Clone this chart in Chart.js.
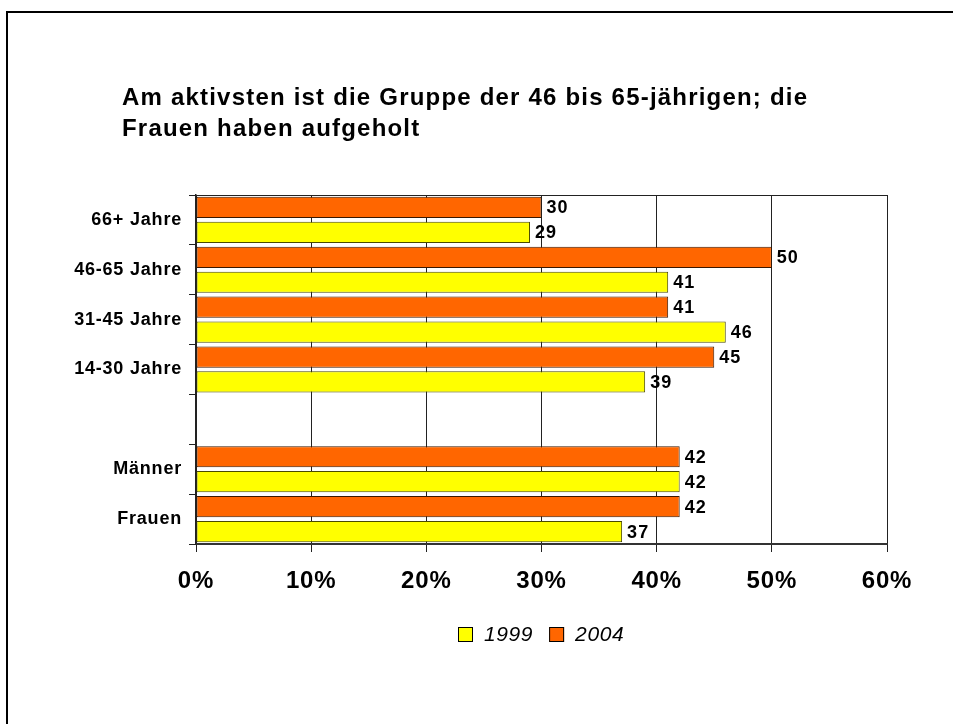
<!DOCTYPE html>
<html lang="de">
<head>
<meta charset="utf-8">
<title>Aktivität nach Gruppen</title>
<script src="https://cdn.jsdelivr.net/npm/chart.js@4/dist/chart.umd.min.js"></script>
<style>
  html, body { margin: 0; padding: 0; background: #fff; }
  canvas { display: block; }
</style>
</head>
<body>
<canvas id="chart" width="953" height="724"></canvas>
<script>
// Daten
const titleLines = ['Am aktivsten ist die Gruppe der 46 bis 65-jährigen; die', 'Frauen haben aufgeholt'];
const categories = ['66+ Jahre', '46-65 Jahre', '31-45 Jahre', '14-30 Jahre', '', 'Männer', 'Frauen'];
const values2004 = [30, 50, 41, 45, null, 42, 42];
const values1999 = [29, 41, 46, 39, null, 42, 37];
const xTicks = [0, 10, 20, 30, 40, 50, 60];
const legendOrder = ['1999', '2004'];

const FONT = '"Liberation Sans", Arial, sans-serif';
Chart.defaults.font.family = FONT;
Chart.defaults.color = '#000';

// Rahmen, Titel, Werte und Legende
const deco = {
  id: 'deco',
  beforeDraw(chart) {
    const ctx = chart.ctx;
    ctx.save();
    ctx.fillStyle = '#fff';
    ctx.fillRect(0, 0, chart.width, chart.height);
    ctx.fillStyle = '#000';
    ctx.fillRect(6, 11, chart.width, 2);
    ctx.fillRect(6, 11, 2, chart.height);
    ctx.restore();
    ctx.letterSpacing = '0.8px';
  },
  afterDatasetsDraw(chart) {
    const ctx = chart.ctx;
    ctx.save();
    ctx.font = 'bold 18px ' + FONT;
    ctx.letterSpacing = '1px';
    ctx.fillStyle = '#000';
    ctx.textAlign = 'left';
    ctx.textBaseline = 'middle';
    chart.data.datasets.forEach((ds, i) => {
      chart.getDatasetMeta(i).data.forEach((bar, j) => {
        const v = ds.data[j];
        if (v == null) return;
        ctx.fillText(String(v), bar.x + 5, bar.y + 1);
      });
    });
    ctx.restore();
  },
  afterDraw(chart) {
    const ctx = chart.ctx;
    const area = chart.chartArea;
    ctx.save();
    // obere Linie
    ctx.strokeStyle = '#222';
    ctx.lineWidth = 1;
    ctx.beginPath();
    ctx.moveTo(area.left, Math.round(area.top) + 0.5);
    ctx.lineTo(area.right, Math.round(area.top) + 0.5);
    ctx.stroke();

    // Titel
    ctx.font = 'bold 24px ' + FONT;
    ctx.letterSpacing = '1.2px';
    ctx.fillStyle = '#000';
    ctx.textAlign = 'left';
    ctx.textBaseline = 'alphabetic';
    titleLines.forEach((line, i) => ctx.fillText(line, 122, 105 + i * 31));

    // Legende
    ctx.font = 'italic 21px ' + FONT;
    ctx.letterSpacing = '0.6px';
    ctx.textBaseline = 'middle';
    const box = 15, gapText = 11, gapItem = 16, cy = 634.5;
    const items = legendOrder.map(l => chart.data.datasets.find(d => d.label === l));
    const widths = items.map(d => ctx.measureText(d.label).width);
    const total = items.reduce((s, d, i) => s + box + gapText + widths[i], 0) + gapItem * (items.length - 1);
    let x = Math.round((area.left + area.right) / 2 - total / 2);
    items.forEach((d, i) => {
      ctx.fillStyle = d.backgroundColor;
      ctx.fillRect(x, cy - box / 2, box, box);
      ctx.strokeStyle = '#000';
      ctx.strokeRect(x + 0.5, cy - box / 2 + 0.5, box - 1, box - 1);
      ctx.fillStyle = '#000';
      ctx.fillText(d.label, x + box + gapText, cy + 1);
      x += box + gapText + widths[i] + gapItem;
    });
    ctx.restore();
  }
};

new Chart(document.getElementById('chart'), {
  type: 'bar',
  data: {
    labels: categories,
    datasets: [
      {
        label: '2004', data: values2004,
        backgroundColor: '#FF6600', borderColor: '#3a1800', borderWidth: 1,
        borderSkipped: false, barPercentage: 0.85, categoryPercentage: 1
      },
      {
        label: '1999', data: values1999,
        backgroundColor: '#FFFF00', borderColor: '#4a4a00', borderWidth: 1,
        borderSkipped: false, barPercentage: 0.85, categoryPercentage: 1
      }
    ]
  },
  options: {
    indexAxis: 'y',
    responsive: false,
    animation: false,
    events: [],
    layout: { padding: { top: 195, right: 66, left: 0, bottom: 0 } },
    plugins: {
      legend: { display: false },
      tooltip: { enabled: false },
      title: { display: false }
    },
    scales: {
      x: {
        min: 0, max: 60,
        afterBuildTicks: s => { s.ticks = xTicks.map(v => ({ value: v })); },
        afterFit: s => { s.height = 180; },
        ticks: {
          callback: v => v + '%',
          font: { size: 24, weight: 'bold' },
          color: '#000',
          padding: 15,
          maxRotation: 0
        },
        grid: { color: '#222', lineWidth: 1, tickLength: 8 },
        border: { color: '#333', width: 2 }
      },
      y: {
        afterFit: s => { s.width = 196; },
        ticks: {
          font: { size: 18, weight: 'bold' },
          color: '#000',
          padding: 7
        },
        grid: { drawOnChartArea: false, tickLength: 7, color: '#222', offset: true },
        border: { color: '#222', width: 1.5 }
      }
    }
  },
  plugins: [deco]
});
</script>
</body>
</html>
